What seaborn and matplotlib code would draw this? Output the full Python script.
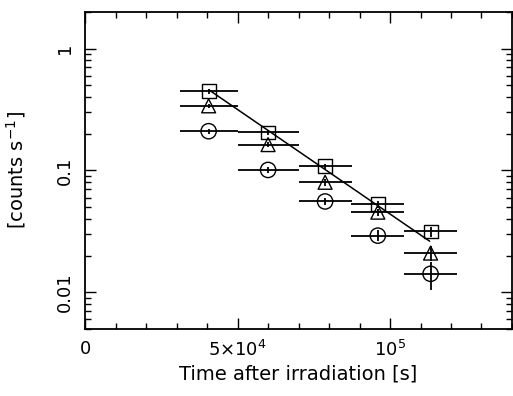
import numpy as np
import pandas as pd
import matplotlib
matplotlib.use("Agg")
import matplotlib.pyplot as plt
import seaborn as sns
from matplotlib.ticker import FixedLocator, MultipleLocator, LogLocator, NullFormatter

# time bins [s]
t_mid = [40500, 60000, 78700, 96000, 113300]
t_err = [9500, 10000, 8700, 8700, 8700]

# count rates [counts/s] for the three data sets
rate_sq = [0.447, 0.205, 0.108, 0.053, 0.0316]
err_sq = [0.02, 0.008, 0.005, 0.0035, 0.003]
rate_tri = [0.339, 0.163, 0.080, 0.0455, 0.021]
err_tri = [0.015, 0.007, 0.005, 0.003, 0.003]
rate_circ = [0.210, 0.101, 0.0557, 0.0292, 0.0142]
err_circ = [0.01, 0.006, 0.004, 0.003, 0.0037]

# exponential fit to the squares
fit_t = [40500, 113000]
fit_rate = [0.46, 0.0263]

sns.set_style("ticks")
plt.rcParams["font.family"] = ["DejaVu Sans"]
plt.rcParams["text.color"] = "black"
plt.rcParams["axes.labelcolor"] = "black"
plt.rcParams["xtick.color"] = "black"
plt.rcParams["ytick.color"] = "black"
plt.rcParams["axes.edgecolor"] = "black"

fig = plt.figure(figsize=(5.13, 3.96), dpi=100)
ax = fig.add_axes([0.166, 0.169, 0.832, 0.801])

sets = [(rate_sq, err_sq, "s", 10), (rate_tri, err_tri, "^", 10), (rate_circ, err_circ, "o", 11)]
for rate, err, mk, ms in sets:
    ax.errorbar(t_mid, rate, xerr=t_err, yerr=err, fmt="none", ecolor="black", elinewidth=1.3, capsize=0)
    df = pd.DataFrame({"t": t_mid, "rate": rate})
    sns.scatterplot(data=df, x="t", y="rate", marker=mk, s=ms ** 2, facecolor="none",
                    edgecolor="black", linewidth=1.0, ax=ax, zorder=3)

fit = pd.DataFrame({"t": fit_t, "rate": fit_rate})
sns.lineplot(data=fit, x="t", y="rate", color="black", linewidth=1.1, ax=ax)

ax.set_yscale("log")
ax.set_xlim(0, 1.4e5)
ax.set_ylim(0.005, 2)

ax.xaxis.set_major_locator(FixedLocator([0, 5e4, 1e5]))
ax.set_xticklabels(["0", r"5$\times$10$^4$", r"10$^5$"])
ax.xaxis.set_minor_locator(MultipleLocator(1e4))
ax.yaxis.set_major_locator(FixedLocator([0.01, 0.1, 1]))
ax.set_yticklabels(["0.01", "0.1", "1"], rotation=90, va="center")
ax.yaxis.set_minor_locator(LogLocator(base=10, subs=np.arange(2, 10)))
ax.yaxis.set_minor_formatter(NullFormatter())

ax.tick_params(which="both", direction="in", top=True, right=True, width=1.0, labelsize=13)
ax.tick_params(axis="x", pad=8)
ax.tick_params(axis="y", pad=8)
ax.tick_params(which="major", length=8)
ax.tick_params(which="minor", length=4)
for sp in ax.spines.values():
    sp.set_linewidth(1.3)

ax.set_xlabel("Time after irradiation [s]", fontsize=14, labelpad=3)
ax.set_ylabel("[counts s$^{-1}$]", fontsize=14, labelpad=20)

fig.savefig("out.png", dpi=100)
